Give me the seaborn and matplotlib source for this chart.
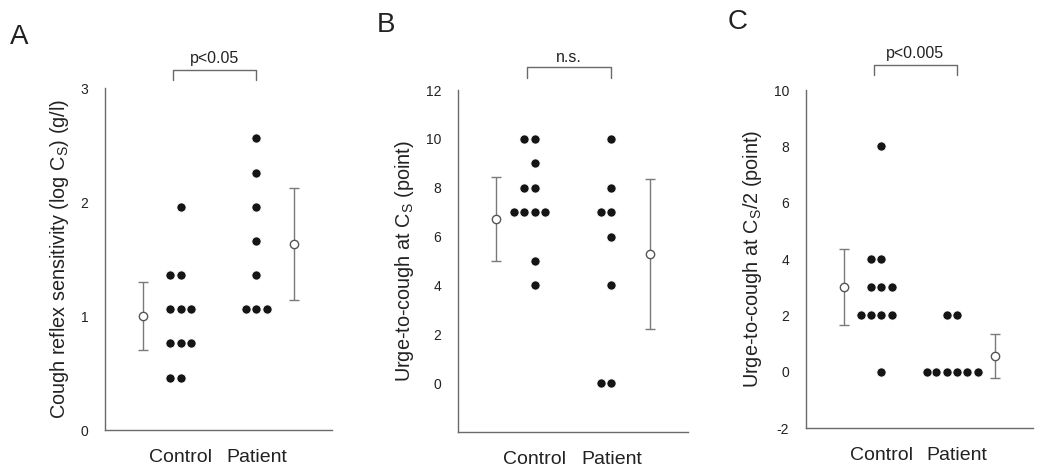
import warnings
import matplotlib
matplotlib.use('Agg')
import matplotlib.pyplot as plt
import matplotlib.transforms as mtransforms
import seaborn as sns
import pandas as pd

warnings.filterwarnings('ignore')

groups = ['Control', 'Patient']

# A: cough reflex sensitivity, log Cs (g/l)
a_control = [1.96, 1.36, 1.36, 1.06, 1.06, 1.06, 0.76, 0.76, 0.76, 0.46, 0.46]
a_patient = [2.56, 2.26, 1.96, 1.66, 1.36, 1.06, 1.06, 1.06]
a_mean = [1.00, 1.63]
a_sd = [0.30, 0.49]

# B: urge-to-cough at Cs
b_control = [10, 10, 9, 8, 8, 7, 7, 7, 7, 5, 4]
b_patient = [10, 8, 7, 7, 6, 4, 0, 0]
b_mean = [6.72, 5.29]
b_sd = [1.73, 3.06]

# C: urge-to-cough at Cs/2
c_control = [8, 4, 4, 3, 3, 3, 2, 2, 2, 2, 0]
c_patient = [2, 2, 0, 0, 0, 0, 0, 0]
c_mean = [3.01, 0.56]
c_sd = [1.34, 0.78]

panels = [
    dict(letter='A', control=a_control, patient=a_patient, mean=a_mean, sd=a_sd,
         ylim=(0, 3), yticks=[0, 1, 2, 3], p='p<0.05',
         ylabel=r'Cough reflex sensitivity (log C$_\mathregular{S}$) (g/l)',
         rect=[0.101, 0.083, 0.218, 0.729], br=(1.053, 1.024), pt=1.088, lt=(-0.42, 1.15)),
    dict(letter='B', control=b_control, patient=b_patient, mean=b_mean, sd=b_sd,
         ylim=(-2, 12), yticks=[0, 2, 4, 6, 8, 10, 12], p='n.s.',
         ylabel=r'Urge-to-cough at C$_\mathregular{S}$ (point)',
         rect=[0.44, 0.079, 0.221, 0.729], br=(1.067, 1.035), pt=1.096, lt=(-0.355, 1.19)),
    dict(letter='C', control=c_control, patient=c_patient, mean=c_mean, sd=c_sd,
         ylim=(-2, 10), yticks=[-2, 0, 2, 4, 6, 8, 10], p='p<0.005',
         ylabel=r'Urge-to-cough at C$_\mathregular{S}$/2 (point)',
         rect=[0.774, 0.087, 0.218, 0.721], br=(1.074, 1.044), pt=1.109, lt=(-0.345, 1.2)),
]

sns.set_style('white')
plt.rcParams['font.family'] = ['Liberation Sans', 'DejaVu Sans']
plt.rcParams['mathtext.fontset'] = 'custom'
plt.rcParams['mathtext.rm'] = 'Liberation Sans'

text_col = '#222222'
line_col = '#6a6a6a'

fig = plt.figure(figsize=(10.41, 4.69), dpi=100)

for pn in panels:
    ax = fig.add_axes(pn['rect'])
    df = pd.DataFrame({
        'group': ['Control'] * len(pn['control']) + ['Patient'] * len(pn['patient']),
        'value': pn['control'] + pn['patient'],
    })
    sns.swarmplot(data=df, x='group', y='value', order=groups, ax=ax,
                  color='#151515', size=6.6, linewidth=0.55, edgecolor='white')

    # mean +/- SD, drawn beside each group (left of control, right of patient)
    for i, g in enumerate(groups):
        xpos = i - 0.5 if i == 0 else i + 0.5
        ax.errorbar(xpos, pn['mean'][i], yerr=pn['sd'][i], fmt='o', ms=6,
                    mfc='white', mec='#555555', mew=1.0, ecolor='#7a7a7a',
                    elinewidth=1.0, capsize=3.5, capthick=1.0, zorder=3)

    ax.set_xlim(-1, 2)
    ax.set_ylim(*pn['ylim'])
    ax.set_xticks([-1, 0, 1, 2])
    ax.set_xticklabels(['', 'Control', 'Patient', ''], fontsize=14, color=text_col)
    ax.set_yticks(pn['yticks'])
    ax.set_yticklabels([str(t) for t in pn['yticks']], fontsize=10, color=text_col)
    ax.set_xlabel('')
    ax.set_ylabel(pn['ylabel'], fontsize=14.3, color=text_col, labelpad=7)

    for s in ['top', 'right']:
        ax.spines[s].set_visible(False)
    for s in ['left', 'bottom']:
        ax.spines[s].set_color(line_col)
        ax.spines[s].set_linewidth(1.0)
    ax.tick_params(axis='both', direction='out', length=4.5, width=0.8, color=line_col)
    ax.tick_params(axis='x', pad=9)
    ax.tick_params(axis='y', pad=7.5)

    # significance bracket above the two groups
    trans = mtransforms.blended_transform_factory(ax.transData, ax.transAxes)
    top, leg = pn['br']
    ax.plot([-0.1, -0.1, 1.0, 1.0], [leg, top, top, leg], color=line_col,
            lw=1.0, transform=trans, clip_on=False)
    ax.text(0.45, pn['pt'], pn['p'], transform=trans, ha='center', va='center',
            fontsize=11.5, color=text_col)

    ax.text(pn['lt'][0], pn['lt'][1], pn['letter'], transform=ax.transAxes,
            fontsize=20, color=text_col, ha='left', va='center')

fig.savefig('out.png', dpi=100, facecolor='white')
